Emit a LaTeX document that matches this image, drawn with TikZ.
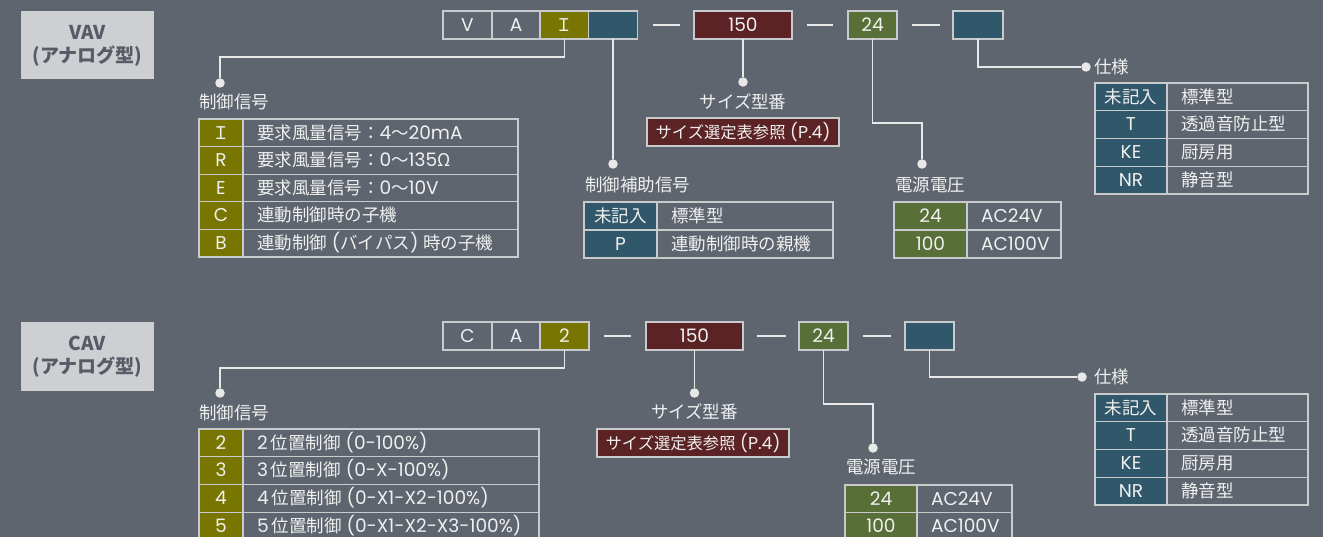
\documentclass[tikz,border=0pt]{standalone}
\usepackage{fontspec}
\setmainfont{Noto Sans CJK JP}
\newfontfamily\latfont{Poppins}[Scale=1.06]
\newcommand\LT[1]{{\latfont #1}}
\definecolor{bg}{RGB}{94,101,111}
\definecolor{lbox}{RGB}{205,207,211}
\definecolor{ltxt}{RGB}{86,92,102}
\definecolor{olive}{RGB}{120,118,0}
\definecolor{teal}{RGB}{49,87,107}
\definecolor{dred}{RGB}{92,35,37}
\definecolor{grn}{RGB}{88,111,55}
\definecolor{bord}{RGB}{200,202,204}
\definecolor{fg}{RGB}{240,240,240}
\definecolor{wire}{RGB}{232,232,232}
\newcommand\tblfont{\fontsize{17.5}{20}\selectfont}
\newcommand\trow[9]{%
  \node[cell, fill=#7, minimum width={#3-#2}, minimum height={#6-#5}] (#1c) at ({(#2+#3)/2},{(#5+#6)/2}) {#8};
  \node[cell, minimum height={#6-#5}] (#1d) at ({(#3+#4)/2},{(#5+#6)/2}) {\makebox[\dimexpr#4pt-#3pt\relax][l]{\hspace{14pt}#9}};
}
\tikzset{
  cell/.style={draw=bord, line width=1.2pt, inner sep=0pt, outer sep=0pt, text=fg, font=\tblfont, text height=14pt, text depth=1.5pt},
  cbox/.style={cell, minimum width=49pt, minimum height=28pt},
  lab/.style={text=fg, font=\tblfont, inner sep=0pt, text height=14pt, text depth=1.5pt},
  redbox/.style={cell, fill=dred, font=\fontsize{16.3}{19}\selectfont, minimum width=192pt, minimum height=28pt},
  dot/.style={circle, fill=wire, inner sep=0pt, minimum size=9.5pt},
  conn/.style={draw=wire, line width=1.5pt},
  dashline/.style={draw=wire, line width=1.5pt},
  tag/.style={fill=lbox, inner sep=0pt, minimum width=133pt, minimum height=68pt, text=ltxt, font=\fontsize{19}{23}\selectfont\bfseries, align=center}
}
\begin{document}
\begin{tikzpicture}[x=1pt,y=-1pt]
\useasboundingbox[fill=bg] (0,0) rectangle (1323,537);
\clip (0,0) rectangle (1323,537);

% ================= TOP: VAV =================
\node[tag] (vav) at (87.5,45.5) {VAV\\(アナログ型)};

\node[cbox] (tV) at (467.5,25) {\LT{V}};
\node[cbox] (tA) at (516,25) {\LT{A}};
\node[cbox, fill=olive] (tI) at (564.5,25) {Ｉ};
\node[cbox, fill=teal] (tT) at (613,25) {};
\node[cbox, fill=dred, minimum width=98pt] (t150) at (743,25) {\LT{150}};
\node[cbox, fill=grn] (t24) at (872.5,25) {\LT{24}};
\node[cbox, fill=teal, minimum width=50pt] (tE) at (978,25) {};
\draw[dashline, shorten <=15pt, shorten >=14pt] (tT.east) -- (t150.west);
\draw[dashline, shorten <=15pt, shorten >=15pt] (t150.east) -- (t24.west);
\draw[dashline, shorten <=15pt, shorten >=13pt] (t24.east) -- (tE.west);

% control signal
\node[dot] (tdI) at (220,83) {};
\coordinate (tkI) at (220,57);
\draw[conn] (tI.south) |- (tkI) -- (tdI);
\node[lab, anchor=west] (tlI) at (199,102.5) {制御信号};
\trow{tr1}{199}{243}{518}{119}{146.6}{olive}{Ｉ}{要求風量信号：\LT{4}〜\LT{20mA}}
\trow{tr2}{199}{243}{518}{146.6}{174.2}{olive}{\LT{R}}{要求風量信号：\LT{0}〜\LT{135}Ω}
\trow{tr3}{199}{243}{518}{174.2}{201.8}{olive}{\LT{E}}{要求風量信号：\LT{0}〜\LT{10V}}
\trow{tr4}{199}{243}{518}{201.8}{229.4}{olive}{\LT{C}}{連動制御時の子機}
\trow{tr5}{199}{243}{518}{229.4}{257}{olive}{\LT{B}}{連動制御\LT{ (}バイパス\LT{) }時の子機}

% aux signal
\node[dot] (tdT) at (613,164) {};
\draw[conn] (tT.south) -- (tdT);
\node[lab, anchor=west] (tlT) at (585,185) {制御補助信号};
\trow{ta1}{584}{657}{833}{202}{230}{teal}{未記入}{標準型}
\trow{ta2}{584}{657}{833}{230}{258}{teal}{\LT{P}}{連動制御時の親機}

% size
\node[dot] (td150) at (743,82) {};
\draw[conn] (t150.south) -- (td150);
\node[lab] (tl150) at (743,102) {サイズ型番};
\node[redbox] (tr150) at (743,132) {サイズ選定表参照\LT{ (P.4)}};

% voltage
\node[dot] (td24) at (922,164) {};
\coordinate (tk24) at (922,123);
\draw[conn] (t24.south) |- (tk24) -- (td24);
\node[lab, anchor=west] (tl24) at (895,185) {電源電圧};
\trow{tv1}{894}{967}{1061}{202}{230}{grn}{\LT{24}}{\LT{AC24V}}
\trow{tv2}{894}{967}{1061}{230}{258}{grn}{\LT{100}}{\LT{AC100V}}

% spec
\node[dot] (tdE) at (1086,67) {};
\draw[conn] (tE.south) |- (tdE);
\node[lab, anchor=west] (tlE) at (1094,67) {仕様};
\trow{ts1}{1095}{1167}{1308}{83}{110.75}{teal}{未記入}{標準型}
\trow{ts2}{1095}{1167}{1308}{110.75}{138.5}{teal}{\LT{T}}{透過音防止型}
\trow{ts3}{1095}{1167}{1308}{138.5}{166.25}{teal}{\LT{KE}}{厨房用}
\trow{ts4}{1095}{1167}{1308}{166.25}{194}{teal}{\LT{NR}}{静音型}

% ================= BOTTOM: CAV =================
\node[tag] (cav) at (87.5,356.5) {CAV\\(アナログ型)};

\node[cbox] (bC) at (467.5,336) {\LT{C}};
\node[cbox] (bA) at (516,336) {\LT{A}};
\node[cbox, fill=olive] (b2) at (564.5,336) {\LT{2}};
\node[cbox, fill=dred, minimum width=97pt] (b150) at (694.5,336) {\LT{150}};
\node[cbox, fill=grn] (b24) at (823.5,336) {\LT{24}};
\node[cbox, fill=teal] (bE) at (929.5,336) {};
\draw[dashline, shorten <=15pt, shorten >=15pt] (b2.east) -- (b150.west);
\draw[dashline, shorten <=14pt, shorten >=13pt] (b150.east) -- (b24.west);
\draw[dashline, shorten <=15pt, shorten >=14pt] (b24.east) -- (bE.west);

% control signal
\node[dot] (bd2) at (220,393) {};
\coordinate (bk2) at (220,368);
\draw[conn] (b2.south) |- (bk2) -- (bd2);
\node[lab, anchor=west] (bl2) at (199,413) {制御信号};
\trow{br1}{199}{243}{539}{429}{456.75}{olive}{\LT{2}}{\LT{2}\hspace{3pt}位置制御\LT{ (0-100\%)}}
\trow{br2}{199}{243}{539}{456.75}{484.5}{olive}{\LT{3}}{\LT{3}\hspace{3pt}位置制御\LT{ (0-X-100\%)}}
\trow{br3}{199}{243}{539}{484.5}{512.25}{olive}{\LT{4}}{\LT{4}\hspace{3pt}位置制御\LT{ (0-X1-X2-100\%)}}
\trow{br4}{199}{243}{539}{512.25}{540}{olive}{\LT{5}}{\LT{5}\hspace{3pt}位置制御\LT{ (0-X1-X2-X3-100\%)}}

% size
\node[dot] (bd150) at (694.5,393) {};
\draw[conn] (b150.south) -- (bd150);
\node[lab] (bl150) at (694.5,412) {サイズ型番};
\node[redbox] (br150) at (693,443) {サイズ選定表参照\LT{ (P.4)}};

% voltage
\node[dot] (bd24) at (873,448) {};
\coordinate (bk24) at (873,404);
\draw[conn] (b24.south) |- (bk24) -- (bd24);
\node[lab, anchor=west] (bl24) at (846,467) {電源電圧};
\trow{bv1}{845}{917}{1012}{485}{512.5}{grn}{\LT{24}}{\LT{AC24V}}
\trow{bv2}{845}{917}{1012}{512.5}{540}{grn}{\LT{100}}{\LT{AC100V}}

% spec
\node[dot] (bdE) at (1082,377) {};
\draw[conn] (bE.south) |- (bdE);
\node[lab, anchor=west] (blE) at (1094,377) {仕様};
\trow{bs1}{1095}{1167}{1308}{394}{421.75}{teal}{未記入}{標準型}
\trow{bs2}{1095}{1167}{1308}{421.75}{449.5}{teal}{\LT{T}}{透過音防止型}
\trow{bs3}{1095}{1167}{1308}{449.5}{477.25}{teal}{\LT{KE}}{厨房用}
\trow{bs4}{1095}{1167}{1308}{477.25}{505}{teal}{\LT{NR}}{静音型}
\end{tikzpicture}
\end{document}
